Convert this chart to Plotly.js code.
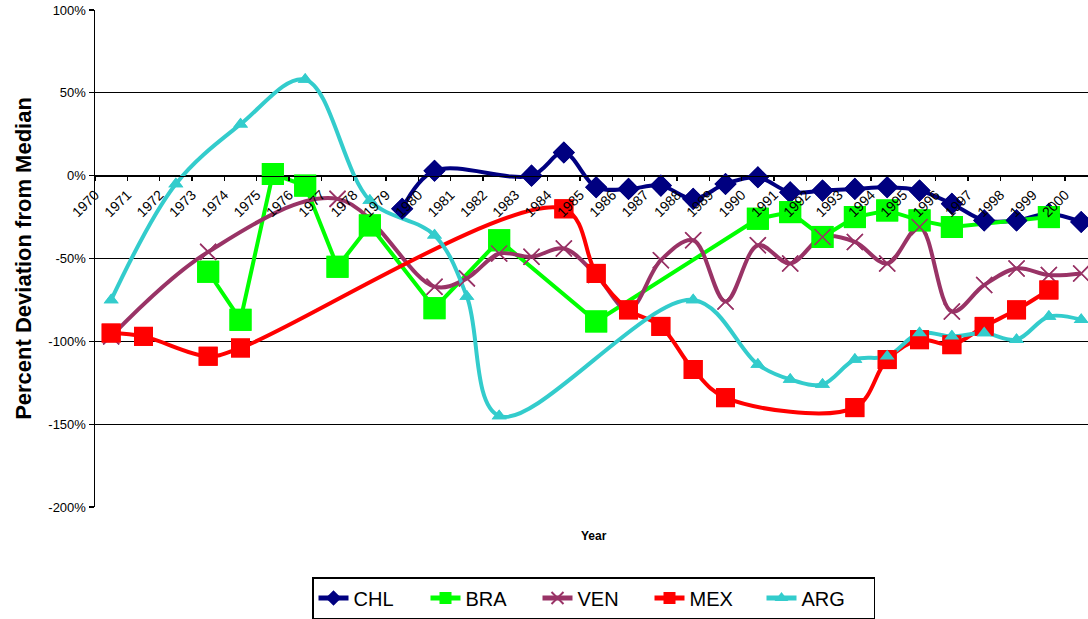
<!DOCTYPE html>
<html>
<head>
<meta charset="utf-8">
<script src="https://cdn.plot.ly/plotly-3.0.1.min.js"></script>
<style>
  html, body { margin: 0; padding: 0; background: #fff; }
  #chart { width: 1088px; height: 619px; }
</style>
</head>
<body>
<div id="chart"></div>
<script>
// Category labels along the x axis
const yearLabels = [1970, 1971, 1972, 1973, 1974, 1975, 1976, 1977, 1978, 1979,
  1980, 1981, 1982, 1983, 1984, 1985, 1986, 1987, 1988, 1989,
  1990, 1991, 1992, 1993, 1994, 1995, 1996, 1997, 1998, 1999, 2000];

// Percent deviation from median, by country (years with data only)
const chlYears  = [1979, 1980, 1983, 1984, 1985, 1986, 1987, 1988, 1989, 1990, 1991, 1992, 1993, 1994, 1995, 1996, 1997, 1998, 1999, 2000];
const chlValues = [-20, 3, 0, 14, -7, -8, -6, -14, -5, -1, -10, -9, -8, -7, -9, -17, -27, -27, -23, -28];

const braYears  = [1973, 1974, 1975, 1976, 1977, 1978, 1980, 1982, 1985, 1990, 1991, 1992, 1993, 1994, 1995, 1996, 1999];
const braValues = [-58, -87, 1, -6, -55, -30, -80, -39, -88, -26, -22, -37, -25, -21, -27, -31, -25];

const venYears  = [1970, 1973, 1977, 1980, 1981, 1982, 1983, 1984, 1985, 1986, 1987, 1988, 1989, 1990, 1991, 1992, 1993, 1994, 1995, 1996, 1997, 1998, 1999, 2000];
const venValues = [-97, -46, -14, -67, -62, -47, -49, -44, -60, -81, -51, -39, -76, -42, -53, -37, -40, -53, -31, -82, -66, -56, -60, -59];

const mexYears  = [1970, 1971, 1973, 1974, 1984, 1985, 1986, 1987, 1988, 1989, 1993, 1994, 1995, 1996, 1997, 1998, 1999];
const mexValues = [-95, -97, -109, -104, -20, -59, -81, -91, -117, -134, -140, -111, -99, -102, -91, -81, -69];

const argYears  = [1970, 1972, 1974, 1976, 1978, 1980, 1981, 1982, 1988, 1990, 1991, 1992, 1993, 1994, 1995, 1996, 1997, 1998, 1999, 2000];
const argValues = [-75, -5, 31, 58, -15, -36, -73, -145, -75, -114, -123, -126, -111, -109, -95, -97, -95, -99, -85, -87];

const yRange = [-200, 100];
const yTicks = [-200, -150, -100, -50, 0, 50, 100];

const series = [
  {name: 'CHL', x: chlYears, y: chlValues, color: '#000080', shape: 'spline',
   marker: {symbol: 'diamond', size: 17}},
  {name: 'BRA', x: braYears, y: braValues, color: '#00FF00', shape: 'linear',
   marker: {symbol: 'square', size: 22}},
  {name: 'VEN', x: venYears, y: venValues, color: '#993366', shape: 'spline',
   marker: {symbol: 'x-thin', size: 16, lineWidth: 1.5}},
  {name: 'MEX', x: mexYears, y: mexValues, color: '#FF0000', shape: 'spline',
   marker: {symbol: 'square', size: 19}},
  {name: 'ARG', x: argYears, y: argValues, color: '#33CCCC', shape: 'spline',
   marker: {symbol: 'triangle-up', size: 13}}
];

function markerStyle(s) {
  return {
    symbol: s.marker.symbol,
    size: s.marker.size,
    color: s.color,
    line: {color: s.color, width: s.marker.lineWidth || 0}
  };
}

// Lines (with legend entries) first, then all markers on top of every line
const lineTraces = series.map(s => ({
  type: 'scatter', mode: 'lines+markers', name: s.name,
  x: s.x, y: s.y,
  line: {color: s.color, width: 4, shape: s.shape, smoothing: 1},
  marker: markerStyle(s),
  hoverinfo: 'x+y+name'
}));
const markerTraces = series.map(s => ({
  type: 'scatter', mode: 'markers', name: s.name,
  x: s.x, y: s.y,
  marker: markerStyle(s),
  showlegend: false, hoverinfo: 'skip'
}));

const layout = {
  width: 1088, height: 619,
  margin: {l: 95, r: 0, t: 10, b: 111, pad: 0},
  paper_bgcolor: '#ffffff', plot_bgcolor: '#ffffff',
  font: {family: 'Arial, "Liberation Sans", sans-serif', color: '#000000'},
  showlegend: true,
  xaxis: {
    range: [yearLabels[0] - 0.5, 2000.21],
    tickvals: yearLabels.map(y => y - 0.5),
    ticktext: yearLabels.map(String),
    tickangle: -45,
    tickfont: {size: 14},
    ticks: 'outside', ticklen: 4, tickwidth: 1.2, tickcolor: '#000',
    showline: true, linecolor: '#000', linewidth: 1.5,
    showgrid: false, zeroline: false,
    anchor: 'free',
    position: (0 - yRange[0]) / (yRange[1] - yRange[0])
  },
  yaxis: {
    range: yRange,
    tickvals: yTicks,
    ticktext: yTicks.map(v => v + '%'),
    tickfont: {size: 13},
    ticks: 'outside', ticklen: 5, tickwidth: 1.2, tickcolor: '#000',
    showline: true, linecolor: '#000', linewidth: 1.5,
    showgrid: true, gridcolor: '#000', gridwidth: 1.3,
    zeroline: false,
    title: {text: 'Percent Deviation from Median', font: {size: 22, weight: 'bold'}, standoff: 10}
  },
  legend: {
    orientation: 'h',
    x: (312 - 95) / 993, xanchor: 'left',
    y: -0.14, yanchor: 'top',
    font: {size: 20},
    bordercolor: '#000', borderwidth: 1.5, bgcolor: '#fff',
    itemsizing: 'constant',
    entrywidth: 67, entrywidthmode: 'pixels'
  },
  annotations: [{
    text: 'Year', xref: 'paper', yref: 'paper',
    x: 0.5025, y: -0.058, xanchor: 'center', yanchor: 'middle',
    showarrow: false, font: {size: 12, weight: 'bold'}
  }]
};

Plotly.newPlot('chart', lineTraces.concat(markerTraces), layout, {displayModeBar: false, staticPlot: true});
</script>
</body>
</html>
